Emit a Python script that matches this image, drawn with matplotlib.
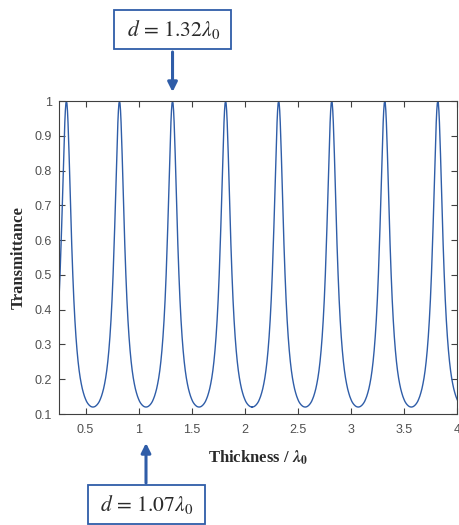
import numpy as np
import matplotlib.pyplot as plt
from matplotlib.patches import Rectangle
from matplotlib.transforms import IdentityTransform

# transmittance profile of one fringe (offset from peak, value)
half_offset = [0.0, 0.005, 0.01, 0.015, 0.02, 0.025, 0.03, 0.035, 0.04, 0.045, 0.05,
               0.06, 0.07, 0.08, 0.09, 0.10, 0.11, 0.12, 0.13, 0.14, 0.15, 0.16,
               0.17, 0.18, 0.19, 0.20, 0.21, 0.22, 0.23, 0.24, 0.25]
half_trans = [1.000, 0.993, 0.972, 0.939, 0.897, 0.848, 0.795, 0.741, 0.688, 0.637, 0.588,
              0.502, 0.429, 0.370, 0.322, 0.283, 0.251, 0.225, 0.204, 0.187, 0.1725, 0.161,
              0.151, 0.143, 0.136, 0.131, 0.127, 0.124, 0.1217, 0.1205, 0.120]
peaks = [0.32, 0.82, 1.32, 1.82, 2.32, 2.82, 3.32, 3.82]

xticks = [0.5, 1, 1.5, 2, 2.5, 3, 3.5, 4]
xticklabels = ['0.5', '1', '1.5', '2', '2.5', '3', '3.5', '4']
yticks = [0.1, 0.2, 0.3, 0.4, 0.5, 0.6, 0.7, 0.8, 0.9, 1.0]
yticklabels = ['0.1', '0.2', '0.3', '0.4', '0.5', '0.6', '0.7', '0.8', '0.9', '1']

d_peak = 1.32
d_min = 1.07

plt.rcParams['mathtext.fontset'] = 'stix'
blue = '#2f5da8'
gray = '#404040'
txt = '#2a2a2a'

ho = np.array(half_offset)
ht = np.array(half_trans)
prof_x = np.concatenate([-ho[:0:-1], ho])
prof_y = np.concatenate([ht[:0:-1], ht])
xs = np.concatenate([p + prof_x for p in peaks])
ys = np.concatenate([prof_y for p in peaks])

fig = plt.figure(figsize=(4.59, 5.25), dpi=100)
ax = fig.add_axes([0.1285, 0.2114, 0.867, 0.5962])
ax.plot(xs, ys, color=blue, lw=1.0)
ax.set_xlim(0.25, 4)
ax.set_ylim(0.1, 1)
ax.set_xticks(xticks)
ax.set_xticklabels(xticklabels)
ax.set_yticks(yticks)
ax.set_yticklabels(yticklabels)
ax.tick_params(direction='in', top=True, right=True, length=4, width=0.8,
               colors=gray, labelsize=9, labelcolor='#505050')
ax.tick_params(axis='x', pad=7)
ax.tick_params(axis='y', pad=5)
for s in ax.spines.values():
    s.set_color(gray)
    s.set_linewidth(0.8)
for lab in ax.get_xticklabels() + ax.get_yticklabels():
    lab.set_family('Liberation Sans')

ax.set_ylabel('Transmittance', family='Liberation Serif', weight='bold', fontsize=12,
              color=txt, labelpad=6)
ax.set_xlabel(r'Thickness / $\mathbfit{\lambda}_{\mathbf{0}}$', family='Liberation Serif',
              weight='bold', fontsize=12, color=txt, labelpad=9)

arrow = dict(arrowstyle='-|>', color=blue, lw=2.2, mutation_scale=14,
             shrinkA=0, shrinkB=0)


def label_box(d, tip, tail, box_y):
    # arrow in data x / figure-pixel y, then a framed label centred above/below it
    ax.annotate('', xy=(d, tip), xytext=(d, tail),
                xycoords=('data', 'figure pixels'), textcoords=('data', 'figure pixels'),
                arrowprops=arrow, annotation_clip=False)
    cx = ax.transData.transform((d, 0))[0]
    fig.patches.append(Rectangle((cx - 58.5, box_y), 117, 39, transform=IdentityTransform(),
                                 fc='white', ec=blue, lw=1.3, figure=fig))
    fig.text(cx + 1, box_y + 19.5, r'$d\,=\,%.2f\lambda_0$' % d, transform=IdentityTransform(),
             ha='center', va='center', fontsize=15.5, color=txt)


label_box(d_peak, 433, 473, 476)
label_box(d_min, 82, 42, 1)

fig.savefig('out.png', dpi=100)
